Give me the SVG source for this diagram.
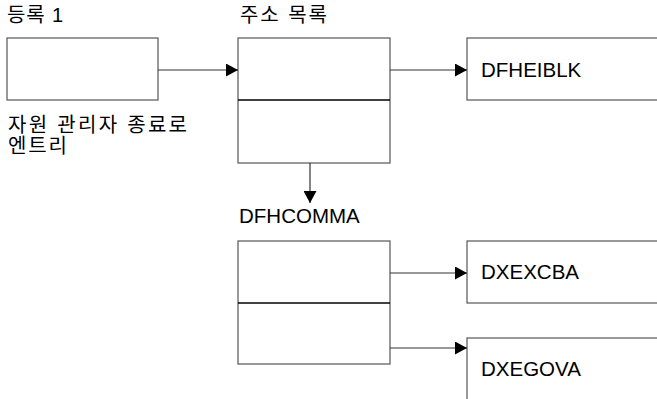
<svg xmlns="http://www.w3.org/2000/svg" width="657" height="399" viewBox="0 0 657 399">
<defs>
<style>
.box{fill:#fff;stroke:#555;stroke-width:1.2}
.div{stroke:#000;stroke-width:1.6}
.t{font-family:"Liberation Sans",Arial,sans-serif;font-size:20.5px;fill:#000}
.k{font-family:"Liberation Sans","Noto Sans CJK KR",sans-serif;font-size:20px;fill:#000}
.c{stroke:#333;stroke-width:1.2;fill:none}
</style>
<marker id="ah" markerWidth="12" markerHeight="13" refX="12" refY="6.5" orient="auto" markerUnits="userSpaceOnUse">
<path d="M0,0 L12,6.5 L0,13 Z" fill="#000"/>
</marker>
</defs>
<rect width="657" height="399" fill="#fff"/>
<g id="registry1">
<text class="k" x="7" y="22" textLength="56" lengthAdjust="spacing">등록 1</text>
<rect class="box" x="7" y="38" width="151" height="62"/>
<text class="k" x="8" y="132" textLength="179" lengthAdjust="spacing">자원 관리자 종료로</text>
<text class="k" x="8" y="153" textLength="59" lengthAdjust="spacing">엔트리</text>
</g>
<g id="addresslist">
<text class="k" x="240" y="22" textLength="87" lengthAdjust="spacing">주소 목록</text>
<rect class="box" x="238" y="38" width="152" height="125"/>
<line class="div" x1="238" y1="100" x2="390" y2="100"/>
</g>
<g id="dfheiblk">
<rect class="box" x="467" y="38" width="200" height="62"/>
<text class="t" x="481" y="77">DFHEIBLK</text>
</g>
<g id="dfhcomma">
<text class="t" x="239" y="223">DFHCOMMA</text>
<rect class="box" x="238" y="241" width="152" height="123"/>
<line class="div" x1="238" y1="303" x2="390" y2="303"/>
</g>
<g id="dxexcba">
<rect class="box" x="467" y="241" width="200" height="62"/>
<text class="t" x="481" y="279">DXEXCBA</text>
</g>
<g id="dxegova">
<rect class="box" x="467" y="338" width="200" height="80"/>
<text class="t" x="481" y="376">DXEGOVA</text>
</g>
<g id="connectors">
<line class="c" x1="158" y1="70" x2="238" y2="70" marker-end="url(#ah)"/>
<line class="c" x1="390" y1="70" x2="467" y2="70" marker-end="url(#ah)"/>
<line class="c" x1="310" y1="163" x2="310" y2="203" marker-end="url(#ah)"/>
<line class="c" x1="390" y1="273" x2="467" y2="273" marker-end="url(#ah)"/>
<line class="c" x1="390" y1="348" x2="467" y2="348" marker-end="url(#ah)"/>
</g>
</svg>
